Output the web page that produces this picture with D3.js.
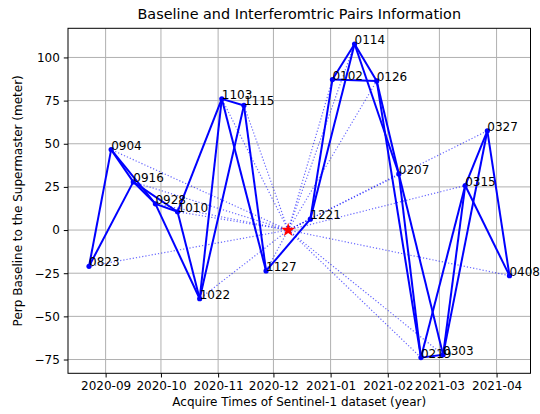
<!DOCTYPE html>
<html>
<head>
<meta charset="utf-8">
<script src="https://cdn.jsdelivr.net/npm/d3@7"></script>
<style>
	body { margin: 0; background: #fff; }
	svg text { font-family: "DejaVu Sans", sans-serif; fill: #000; }
</style>
</head>
<body>
<svg id="chart" width="540" height="414"></svg>
<script>
	"use strict";

	/***** Data *****/
	// Acquisition dates (Sentinel-1, 12 day repeat) and their perpendicular baselines
	const acqDates = ["2020-08-23", "2020-09-04", "2020-09-16", "2020-09-28", "2020-10-10",
		"2020-10-22", "2020-11-03", "2020-11-15", "2020-11-27", "2020-12-21",
		"2021-01-02", "2021-01-14", "2021-01-26", "2021-02-07", "2021-02-19",
		"2021-03-03", "2021-03-15", "2021-03-27", "2021-04-08"];
	const acqLabels = ["0823", "0904", "0916", "0928", "1010", "1022", "1103", "1115", "1127", "1221",
		"0102", "0114", "0126", "0207", "0219", "0303", "0315", "0327", "0408"];
	const perpBaselines = [-21, 46.6, 27.9, 15.2, 10.6, -39.8, 76, 72.2, -23.7, 6.3,
		87.2, 107.8, 86.4, 32.5, -73.9, -72.3, 25.8, 57.5, -26.4];

	// Supermaster
	const superDate = "2020-12-09";
	const superBaseline = 0;

	// Interferometric pairs (small baseline network)
	const pairs = [
		["0823", "0904"], ["0823", "0916"], ["0904", "0916"], ["0904", "0928"],
		["0916", "0928"], ["0916", "1010"], ["0928", "1010"], ["0928", "1022"],
		["1010", "1022"], ["1010", "1103"], ["1022", "1103"], ["1022", "1115"],
		["1103", "1115"], ["1103", "1127"], ["1115", "1127"], ["1127", "1221"],
		["1221", "0102"], ["1221", "0114"], ["0102", "0114"], ["0102", "0126"],
		["0114", "0126"], ["0114", "0207"], ["0126", "0207"], ["0126", "0219"],
		["0207", "0219"], ["0207", "0303"], ["0219", "0303"], ["0219", "0315"],
		["0303", "0315"], ["0303", "0327"], ["0315", "0327"], ["0315", "0408"],
		["0327", "0408"]
	];

	// Axis ticks
	const xTicks = ["2020-09-01", "2020-10-01", "2020-11-01", "2020-12-01",
		"2021-01-01", "2021-02-01", "2021-03-01", "2021-04-01"];
	const yTicks = [-75, -50, -25, 0, 25, 50, 75, 100];

	const titleText = "Baseline and Interferomtric Pairs Information";
	const xLabelText = "Acquire Times of Sentinel-1 dataset (year)";
	const yLabelText = "Perp Baseline to the Supermaster (meter)";

	/***** Layout *****/
	const width = 540, height = 414;
	const margin = {top: 28.3, right: 9.5, bottom: 40.7, left: 68};
	const parse = d3.utcParse("%Y-%m-%d");

	var points = acqDates.map(function (d, i) {
		return {date: parse(d), label: acqLabels[i], bp: perpBaselines[i]};
	});
	var byLabel = {};
	points.forEach(function (p) { byLabel[p.label] = p; });
	var master = {date: parse(superDate), bp: superBaseline};

	// matplotlib style 5% padding
	function padded(ext) {
		var pad = (ext[1] - ext[0]) * 0.05;
		return [ext[0] - pad, ext[1] + pad];
	}
	var xExt = d3.extent(points.concat([master]), function (d) { return +d.date; });
	var yExt = d3.extent(points.concat([master]), function (d) { return d.bp; });

	var x = d3.scaleUtc()
		.domain(padded(xExt).map(function (v) { return new Date(v); }))
		.range([margin.left, width - margin.right]);
	var y = d3.scaleLinear()
		.domain(padded(yExt))
		.range([height - margin.bottom, margin.top]);

	var svg = d3.select("#chart");

	/***** Grid *****/
	var grid = svg.append("g").attr("stroke", "#b0b0b0").attr("stroke-width", 1);
	grid.selectAll(".gx").data(xTicks).enter().append("line")
		.attr("x1", function (d) { return x(parse(d)); })
		.attr("x2", function (d) { return x(parse(d)); })
		.attr("y1", margin.top).attr("y2", height - margin.bottom);
	grid.selectAll(".gy").data(yTicks).enter().append("line")
		.attr("x1", margin.left).attr("x2", width - margin.right)
		.attr("y1", function (d) { return y(d); })
		.attr("y2", function (d) { return y(d); });

	/***** Axes *****/
	var xAxis = d3.axisBottom(x)
		.tickValues(xTicks.map(parse))
		.tickFormat(d3.utcFormat("%Y-%m"))
		.tickSizeInner(4.2).tickSizeOuter(0).tickPadding(4);
	var yAxis = d3.axisLeft(y)
		.tickValues(yTicks)
		.tickFormat(function (d) { return d < 0 ? "\u2212" + Math.abs(d) : d; })
		.tickSizeInner(4.2).tickSizeOuter(0).tickPadding(4);

	var gx = svg.append("g")
		.attr("transform", "translate(0," + (height - margin.bottom) + ")")
		.call(xAxis);
	var gy = svg.append("g")
		.attr("transform", "translate(" + margin.left + ",0)")
		.call(yAxis);
	[gx, gy].forEach(function (g) {
		g.select(".domain").remove();
		g.selectAll("text").attr("font-size", 12).attr("font-family", "DejaVu Sans").attr("fill", "#000");
		g.selectAll("line").attr("stroke", "#000").attr("stroke-width", 1);
	});

	/***** Dotted lines to the supermaster *****/
	svg.append("g").selectAll("line").data(points).enter().append("line")
		.attr("x1", x(master.date)).attr("y1", y(master.bp))
		.attr("x2", function (d) { return x(d.date); })
		.attr("y2", function (d) { return y(d.bp); })
		.attr("stroke", "#0000ff").attr("stroke-opacity", 0.6)
		.attr("stroke-width", 1.2).attr("stroke-dasharray", "1.2,2");

	/***** Interferometric pairs *****/
	svg.append("g").selectAll("line").data(pairs).enter().append("line")
		.attr("x1", function (d) { return x(byLabel[d[0]].date); })
		.attr("y1", function (d) { return y(byLabel[d[0]].bp); })
		.attr("x2", function (d) { return x(byLabel[d[1]].date); })
		.attr("y2", function (d) { return y(byLabel[d[1]].bp); })
		.attr("stroke", "#0000ff").attr("stroke-width", 2);

	svg.append("g").selectAll("circle").data(points).enter().append("circle")
		.attr("cx", function (d) { return x(d.date); })
		.attr("cy", function (d) { return y(d.bp); })
		.attr("r", 2.6).attr("fill", "#0000ff");

	/***** Supermaster star *****/
	svg.append("path")
		.attr("d", d3.symbol(d3.symbolStar, 62)())
		.attr("transform", "translate(" + x(master.date) + "," + y(master.bp) + ")")
		.attr("fill", "#ff0000");

	/***** Date labels *****/
	svg.append("g").selectAll("text").data(points).enter().append("text")
		.attr("x", function (d) { return x(d.date); })
		.attr("y", function (d) { return y(d.bp); })
		.attr("font-size", 12)
		.text(function (d) { return d.label; });

	/***** Frame *****/
	svg.append("rect")
		.attr("x", margin.left).attr("y", margin.top)
		.attr("width", width - margin.left - margin.right)
		.attr("height", height - margin.top - margin.bottom)
		.attr("fill", "none").attr("stroke", "#000").attr("stroke-width", 1);

	/***** Titles *****/
	var cx = (margin.left + width - margin.right) / 2;
	svg.append("text").attr("x", cx).attr("y", 19.3)
		.attr("text-anchor", "middle").attr("font-size", 14.4).text(titleText);
	svg.append("text").attr("x", cx).attr("y", 405.5)
		.attr("text-anchor", "middle").attr("font-size", 12).text(xLabelText);
	svg.append("text")
		.attr("transform", "translate(21.5," + ((margin.top + height - margin.bottom) / 2) + ") rotate(-90)")
		.attr("text-anchor", "middle").attr("font-size", 12).text(yLabelText);
</script>
</body>
</html>
